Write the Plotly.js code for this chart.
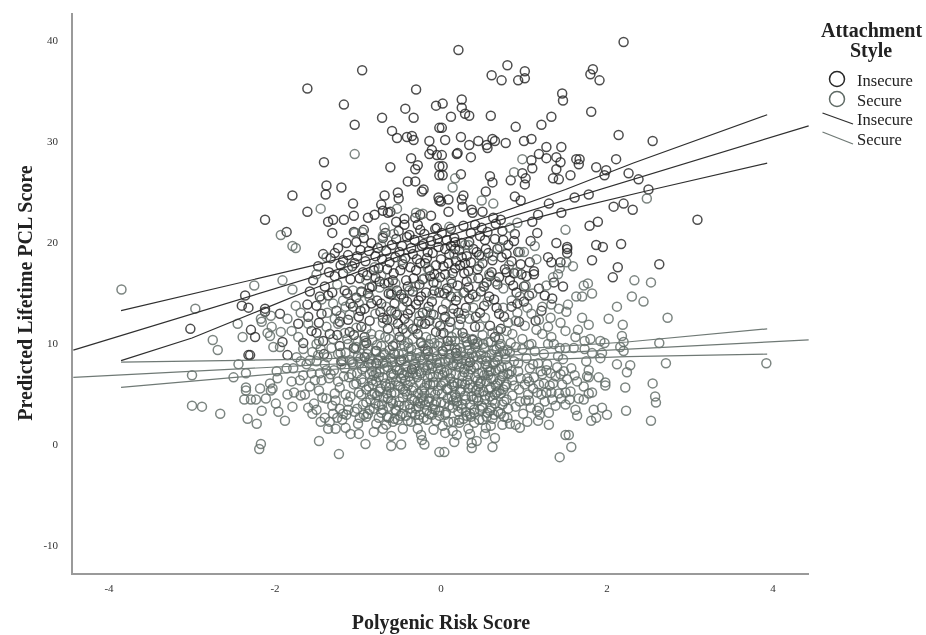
<!DOCTYPE html>
<html><head><meta charset="utf-8">
<script src="https://cdn.plot.ly/plotly-3.0.1.min.js"></script>
<style>html,body{margin:0;padding:0;background:#fff}#c{width:926px;height:635px;filter:blur(0.35px)}</style>
</head><body><div id="c"></div>
<script>
const insecurePoints = [
[-0.95,37.0],[-1.61,35.2],[-0.30,35.1],[-1.17,33.6],[-0.43,33.2],[-0.06,33.5],[-0.71,32.3],[-0.33,32.3],[-1.04,31.6],[-0.02,31.3],[-0.59,31.0],[-0.53,30.3],[-0.41,30.4],[-0.35,30.5],[-0.33,30.1],[-0.14,30.0],[-0.11,29.1],[-0.14,28.7],[-0.05,28.6],[-0.36,28.3],[-0.28,27.6],[-0.31,27.2],[-0.61,27.4],[-1.41,27.9],[-0.02,27.5],[-0.02,26.6],[-0.40,26.0],[-0.31,26.0],[-0.21,25.2],[-0.23,25.0],[-1.38,25.6],[-1.20,25.4],[-1.39,24.7],[-1.79,24.6],[-1.06,23.8],[-0.68,24.6],[-0.52,24.9],[-0.51,24.3],[-0.72,23.7],[-1.61,23.0],[-1.05,22.6],[-0.70,23.1],[-0.61,23.0],[-0.64,22.9],[-0.03,24.4],[-0.02,24.1],[-2.12,22.2],[-1.17,22.2],[-0.88,22.4],[-0.80,22.7],[-1.30,22.2],[-1.36,22.0],[-0.44,22.3],[-0.44,21.7],[-0.54,22.0],[-0.31,22.4],[-0.25,22.7],[-0.12,22.6],[-0.28,21.7],[-0.25,21.2],[-0.07,21.3],[-0.05,21.4],[-1.86,21.0],[-1.31,20.9],[-0.93,21.2],[-1.05,21.0],
[2.20,39.8],[0.21,39.0],[0.80,37.5],[1.01,36.9],[0.61,36.5],[0.73,36.0],[0.93,36.0],[1.01,36.2],[1.83,37.1],[1.80,36.6],[1.91,36.0],[1.46,34.7],[1.47,34.0],[0.25,34.1],[0.25,33.3],[0.02,33.7],[0.29,32.7],[0.34,32.5],[0.12,32.4],[0.60,32.5],[1.81,32.9],[1.33,32.4],[1.21,31.6],[0.90,31.4],[0.01,31.3],[0.24,30.4],[0.05,30.1],[0.45,30.0],[0.34,29.6],[0.62,30.2],[0.55,29.6],[0.56,29.3],[0.65,30.0],[0.78,29.8],[1.00,30.0],[1.09,30.2],[2.14,30.6],[2.55,30.0],[1.27,29.4],[1.45,29.4],[1.18,28.7],[1.27,28.3],[1.39,28.4],[1.44,27.9],[1.63,28.2],[1.67,28.2],[1.66,27.7],[1.09,28.1],[1.10,27.3],[2.11,28.2],[1.39,27.2],[1.35,26.3],[1.42,26.2],[1.56,26.6],[1.87,27.4],[1.99,27.1],[1.97,26.6],[2.26,26.8],[2.38,26.2],[2.50,25.2],[0.19,28.7],[0.20,28.8],[0.36,28.4],[0.01,28.6],[0.02,27.5],[0.02,26.6],[0.24,26.7],[0.59,26.5],[0.62,25.9],[0.84,26.1],[0.98,26.8],[1.02,26.3],[1.01,25.7],[0.54,25.0],[0.27,24.6],[0.25,24.2],[0.26,23.5],[0.09,24.2],[0.00,24.0],[0.09,23.0],[0.37,23.2],[0.38,22.9],[0.50,23.0],[0.89,24.5],[0.96,24.1],[1.30,23.8],[1.61,24.4],[1.78,24.7],[1.17,22.7],[1.10,22.0],[1.45,22.9],[2.08,23.5],[2.20,23.8],[2.31,23.2],[1.79,21.6],[1.89,22.0],[3.09,22.2],[1.16,20.9],[1.39,19.9],[1.87,19.7],[1.95,19.5],[1.52,19.5],[1.52,19.3],[1.52,18.9],[2.17,19.8],[1.82,18.2],[1.29,18.5],[1.33,18.0],[1.44,18.0],[2.13,17.5],[2.63,17.8],[2.07,16.5],[1.47,15.6],[1.12,17.1],[1.07,18.0],[1.08,20.1],[0.89,20.8],[0.88,20.1],[0.63,22.4],[0.72,22.2],[0.66,21.8],[0.49,21.4],[0.36,20.9],[0.53,20.2],[0.07,20.2],[0.17,20.0],[0.12,19.6],[0.75,20.2],[0.73,18.5],[0.25,18.5],[0.31,18.6],[0.17,17.4],[0.05,16.8],[0.97,16.8],[1.03,16.6],[1.12,16.8],
[-2.36,14.7],[-2.40,13.7],[-2.32,13.5],[-2.12,13.4],[-2.12,13.1],[-1.94,12.9],[-3.02,11.4],[-2.29,11.3],[-2.24,10.6],[-1.91,10.1],[-1.85,8.8],[-2.32,8.8],[-2.30,8.8],[-1.61,13.8],[-1.60,12.6],[-1.72,11.9],[-1.47,12.0],[-1.56,11.2],[-1.66,10.0],[-1.41,8.9],[-1.36,14.7],[-1.34,10.9],[-1.22,9.7],[-1.06,13.6],[-0.92,13.4],[-1.05,10.8],[-0.92,10.6],[-1.05,9.5],[-0.78,9.2],[-1.16,15.2],[-0.96,15.1],[-0.60,14.8],[-0.48,14.8],[-0.24,14.6],[-0.73,13.1],[-0.09,12.8],[-0.37,13.3],[-1.20,8.2],
[-1.40,15.6],[-1.33,18.4],[-1.28,18.9],[-1.24,19.4],[-1.12,18.7],[-1.02,20.0],[-0.97,19.2],[-0.91,18.1],[-0.84,19.9],[-0.79,18.6],[-0.75,17.4],[-0.70,20.4],[-0.66,19.1],[-0.62,18.0],[-0.57,16.9],[-0.54,20.3],[-0.50,19.0],[-0.46,17.8],[-0.42,16.2],[-0.38,20.7],[-0.34,18.8],[-0.30,17.2],[-0.26,15.8],[-0.21,19.8],[-0.17,18.4],[-0.13,16.6],[-0.08,15.2],[-0.04,20.3],[0.00,18.3],[0.04,14.9],[0.09,17.9],[0.13,15.9],[0.22,19.2],[0.28,16.9],[0.33,15.5],[0.39,19.3],[0.44,17.3],[0.48,15.1],[0.57,18.9],[0.61,17.0],[0.68,15.8],[0.79,18.8],[0.83,16.2],[0.91,15.0],[1.18,15.4],[1.25,14.7],[1.36,16.0],[-1.48,17.6],[-1.54,16.2],[-1.18,16.9],[-1.09,16.3],[-1.02,14.5],[-0.89,16.7],[-0.83,15.6],[-0.77,14.2],[-0.68,15.9],[-0.56,13.9],[-0.44,12.4],[-0.30,13.8],[-0.19,11.9],[-0.11,14.1],[0.02,13.3],[0.11,12.1],[0.18,14.2],[0.30,13.5],[0.42,12.6],[0.52,13.7],[0.64,14.3],[0.70,12.9],[0.85,13.6],[-0.86,12.2],[-0.64,11.4],[-0.50,10.6],[-0.28,10.9],[-0.06,11.1],[0.08,10.2],[0.26,11.0],[-0.78,8.0],[-0.35,7.4],[0.02,9.2],[-1.12,12.3],[-1.26,13.2],[-1.42,10.2],[-0.96,11.6]
];
const insecureCore = [
[-1.21,17.7],[-1.14,19.9],[-1.07,17.6],[-1.01,18.6],[-0.94,17.0],[-0.93,20.4],[-0.87,19.1],[-0.86,15.5],[-0.81,17.2],[-0.76,19.4],[-0.74,16.1],[-0.71,18.3],[-0.67,20.9],[-0.65,17.3],[-0.63,14.9],[-0.59,19.7],[-0.58,16.2],[-0.55,18.5],[-0.53,15.2],[-0.51,21.1],[-0.49,17.2],[-0.47,19.6],[-0.45,14.4],[-0.43,18.4],[-0.41,20.5],[-0.40,15.6],[-0.37,17.5],[-0.36,19.4],[-0.33,16.4],[-0.32,20.2],[-0.29,18.3],[-0.27,14.2],[-0.25,17.9],[-0.23,19.6],[-0.22,16.3],[-0.20,20.8],[-0.18,15.0],[-0.16,19.0],[-0.14,17.2],[-0.12,20.1],[-0.10,18.9],[-0.09,16.0],[-0.06,17.7],[-0.03,19.5],[-0.01,16.5],[0.01,20.9],[0.03,17.6],[0.05,19.3],[0.07,15.4],[0.10,18.8],[0.12,21.3],[0.14,16.9],[0.16,20.4],[0.18,18.1],[0.20,15.7],[0.23,17.7],[0.25,19.9],[0.27,21.6],[0.29,17.9],[0.31,16.1],[0.34,20.0],[0.36,18.0],[0.38,14.8],[0.41,21.7],[0.43,19.0],[0.45,16.4],[0.47,20.6],[0.50,17.9],[0.52,15.6],[0.54,19.3],[0.56,21.0],[0.59,16.6],[0.62,18.2],[0.65,20.3],[0.68,19.3],[0.70,16.5],[0.74,21.1],[0.77,17.3],[0.81,19.7],[0.85,18.1],[0.88,16.9],[0.93,19.0],[0.96,17.8],[1.00,15.6],[-0.98,16.4],[-1.13,14.9],[-1.28,16.6],[-1.35,17.0],[-1.42,18.8],[-1.46,14.6],[-1.50,13.7],[-1.22,12.1],[-1.10,11.1],[-0.99,12.6],[-0.84,13.9],[-0.70,12.5],[-0.60,13.2],[-0.52,11.9],[-0.40,12.9],[-0.34,11.4],[-0.22,13.0],[-0.14,12.2],[-0.01,11.7],[0.05,12.6],[0.15,13.4],[0.24,12.4],[0.34,14.4],[0.47,13.0],[0.59,11.7],[0.76,12.6],[0.92,13.9],[-0.58,9.7],[-0.16,9.2],[0.18,9.0],[-0.48,8.3],[0.35,8.1],[0.65,10.6],[-0.92,8.6]
];
const insecureExtra = [
[0.33,17.1],[-0.72,13.9],[-1.31,15.0],[0.58,14.6],[-0.19,17.9],[1.06,14.7],[-0.88,14.9],[0.21,13.0],[-1.58,15.1],[0.79,17.0],[-0.41,14.1],[-1.04,17.9],[0.12,14.6],[0.94,12.1],[-0.63,16.0],[-1.44,12.9],[0.46,18.7],[-0.27,12.1],[1.21,13.2],[-0.08,16.8],[-0.97,13.2],[0.67,13.5],[-1.18,18.2],[0.28,15.0],[-0.53,12.8],[1.34,14.4],[-0.34,15.1],[0.03,11.0],[-1.50,11.0],[0.87,15.7],[-0.79,16.5],[0.41,11.6],[-0.15,13.6],[-1.09,13.9],[0.55,16.0],[-0.46,11.4],[1.14,12.2],[0.17,19.3],[-0.65,12.3],[-1.25,10.8],[0.72,11.4],[-0.02,15.0],[-0.90,10.0],[0.38,10.3],[-0.24,10.0],[1.00,14.1]
];
const securePoints = [
[-1.04,28.7],[-1.45,23.3],[-1.93,20.7],[-1.79,19.6],[-1.75,19.4],[-2.25,15.7],[-1.91,16.2],[-1.50,16.8],[-1.79,15.3],[-3.85,15.3],[-0.53,23.3],[-0.30,22.9],[-0.22,22.8],[-0.68,21.4],[-0.70,20.6],[-1.04,20.9],[-0.95,21.0],[-0.72,19.6],[-1.38,18.5],[-0.57,20.8],
[0.98,28.2],[0.88,26.9],[0.17,26.3],[0.14,25.4],[0.49,24.1],[0.63,23.8],[2.48,24.3],[1.50,21.2],[0.10,21.5],[0.92,21.9],[0.83,21.4],[0.33,19.7],[0.29,19.7],[0.71,19.5],[0.95,19.0],[1.00,19.0],[1.13,19.6],[0.49,18.6],[0.63,18.6],[1.15,18.3],[1.51,18.0],[1.59,17.6],[1.43,17.4],[1.35,16.5],[1.41,16.8],[0.82,17.7],[0.92,17.0],[2.33,16.2],[2.53,16.0],[1.72,15.7],[1.77,15.9],[0.46,17.6],[0.58,16.8],[0.37,16.4],
[-2.96,13.4],[-2.45,11.9],[-2.17,12.4],[-2.16,12.1],[-2.05,12.7],[-2.04,11.6],[-2.39,10.6],[-2.09,11.0],[-2.06,10.7],[-1.93,11.1],[-2.75,10.3],[-2.69,9.3],[-2.02,9.6],[-1.94,9.6],[-1.80,11.2],[-1.72,10.6],[-1.47,10.2],[-2.44,7.9],[-2.35,7.0],[-3.00,6.8],[-2.50,6.6],[-1.98,7.2],[-1.97,6.5],[-1.69,8.2],[-1.58,8.3],[-1.50,8.2],[-1.86,7.5],[-1.78,7.5],[-1.66,6.8],[-1.56,7.0],[-1.46,7.0],[-1.38,7.3],[-1.80,6.2],[-2.35,5.6],[-2.35,5.3],[-2.18,5.5],[-2.06,6.0],[-2.03,5.5],[-2.05,5.3],[-2.37,4.4],[-2.29,4.4],[-2.23,4.4],[-2.11,4.5],[-1.99,4.0],[-1.85,4.9],[-1.77,5.1],[-1.69,4.8],[-1.64,4.9],[-1.79,3.7],[-3.00,3.8],[-2.88,3.7],[-2.66,3.0],[-2.16,3.3],[-1.96,3.2],[-2.33,2.5],[-2.22,2.0],[-1.88,2.3],[-1.53,4.0],[-1.55,3.0],[-1.45,2.2],[-1.34,2.2],[-1.36,1.5],[-1.27,1.5],[-1.15,1.6],[-1.09,1.0],[-0.99,1.0],[-0.81,1.2],[-0.70,1.5],[-1.47,0.3],[-0.91,0.0],[-0.60,0.8],[-0.60,-0.2],[-0.48,-0.05],[-0.24,0.9],[-0.23,0.4],[-0.20,-0.05],[-1.23,-1.0],[-2.17,0.0],[-2.19,-0.5],[-0.02,-0.8],
[2.30,14.6],[2.44,14.1],[2.12,13.6],[2.73,12.5],[2.02,12.4],[2.19,11.8],[1.70,12.5],[1.78,11.8],[1.63,14.6],[1.70,14.6],[1.82,14.9],[1.22,13.6],[1.33,13.8],[1.42,13.4],[1.51,13.1],[1.53,13.8],[1.32,12.5],[1.44,12.0],[2.18,10.7],[2.20,10.1],[2.16,9.6],[2.20,9.2],[1.62,10.6],[1.73,10.2],[1.80,10.4],[1.92,10.2],[1.97,10.0],[2.63,10.0],[1.43,9.5],[1.50,9.5],[1.60,9.5],[1.73,9.4],[1.82,9.0],[1.94,9.0],[1.92,8.5],[2.12,7.9],[2.28,7.8],[2.71,8.0],[3.92,8.0],[2.24,7.1],[1.75,8.2],[1.57,7.5],[1.44,6.9],[1.61,6.8],[1.78,7.3],[1.76,6.7],[1.64,6.2],[1.78,6.6],[1.90,6.6],[1.98,6.1],[1.98,5.8],[2.22,5.6],[2.55,6.0],[2.58,4.7],[2.59,4.1],[1.72,5.7],[1.82,5.1],[1.78,5.0],[1.72,4.4],[1.66,4.5],[1.50,5.1],[1.56,5.2],[1.50,3.9],[1.62,3.4],[1.64,2.8],[1.84,3.4],[1.94,3.6],[2.23,3.3],[2.00,2.9],[1.87,2.6],[1.81,2.3],[2.53,2.3],[1.50,0.9],[1.54,0.9],[1.57,-0.3],[1.43,-1.3],[1.30,1.9],[0.95,1.6],[0.83,2.0],[1.17,2.3],[0.65,0.6],[0.62,-0.3],[0.37,-0.4],[0.37,0.1],[0.43,0.3],[0.35,1.0],[0.16,0.2],[0.04,-0.8],[0.05,1.1],[0.19,0.9],[0.53,1.0],
[1.11,5.5],[1.27,7.3],[1.21,4.9],[1.46,5.9],[1.38,3.8],[0.95,4.2],[1.06,4.3],[1.30,3.1],[1.18,3.6],[1.06,6.2],[1.24,6.0],[1.33,5.1],
[-1.44,14.3],[-1.30,13.9],[-1.18,14.2],[-1.24,11.9],[-1.10,12.8],[-0.99,13.9],[-0.86,14.5],[-0.79,12.9],[-0.66,13.6],[-0.58,12.3],[-0.46,13.6],[-0.39,11.9],[-0.26,12.7],[-0.17,13.1],[-0.05,12.0],[0.06,13.9],[0.14,12.9],[0.22,11.8],[0.34,12.4],[0.47,11.6],[0.56,14.1],[0.75,13.5],[0.81,12.0],[0.92,13.0],[1.01,11.7],[1.09,12.9],[1.15,11.3],[1.22,10.9],[1.33,10.6],[0.98,10.4],[1.06,9.8],[0.86,10.9],[0.69,11.2],[-1.38,11.6],[-1.28,12.4],[-1.30,10.4],[-1.16,11.0],[-1.00,10.2],[-0.90,11.4],[-0.74,10.8],[-0.62,10.4],[-0.52,11.2],[-0.40,10.0],[-0.30,11.4],[-0.18,10.6],[-0.08,10.0],[0.00,10.9],[0.10,11.5],[0.17,10.2],[0.30,10.5],[0.40,9.9],[0.50,10.8],[0.60,10.1],[0.72,9.9],[0.80,9.3],[0.90,9.6],
[-1.25,15.8],[-1.06,15.2],[-0.90,16.2],[-0.74,15.5],[-0.55,15.9],[-0.38,15.2],[-0.20,16.4],[-0.05,15.9],[0.12,16.3],[0.27,15.0],[0.42,14.6],[0.75,15.4],[0.95,14.6],[1.10,14.9],[-0.80,17.5],[-0.47,18.2],[-0.16,17.4],[0.16,18.8],[0.20,14.6],[-0.60,15.0],[-1.12,17.4]
];
const secureCore = [
[-1.12,9.9],[-1.07,8.1],[-1.03,9.4],[-1.01,7.0],[-0.99,5.1],[-0.97,8.5],[-0.96,6.4],[-0.94,3.9],[-0.93,9.8],[-0.92,7.6],[-0.90,5.4],[-0.89,8.9],[-0.88,3.0],[-0.86,6.9],[-0.85,4.4],[-0.84,7.9],[-0.83,10.3],[-0.82,5.9],[-0.81,3.5],[-0.79,9.2],[-0.78,6.2],[-0.77,4.8],[-0.76,8.3],[-0.75,2.6],[-0.74,7.1],[-0.73,5.5],[-0.72,9.7],[-0.71,3.9],[-0.70,6.6],[-0.69,4.6],[-0.68,8.8],[-0.67,10.6],[-0.66,5.7],[-0.65,2.7],[-0.64,7.6],[-0.63,3.7],[-0.62,9.3],[-0.61,6.0],[-0.60,4.3],[-0.59,8.1],[-0.58,2.2],[-0.57,6.9],[-0.56,5.1],[-0.55,9.9],[-0.54,3.3],[-0.53,7.3],[-0.52,5.8],[-0.51,8.9],[-0.50,4.2],[-0.49,2.8],[-0.48,10.3],[-0.47,7.0],[-0.46,5.4],[-0.45,8.4],[-0.44,3.8],[-0.43,6.3],[-0.42,7.7],[-0.41,4.9],[-0.40,2.3],[-0.39,9.5],[-0.38,6.7],[-0.37,3.5],[-0.36,8.7],[-0.35,5.3],[-0.34,10.4],[-0.33,7.9],[-0.32,4.3],[-0.31,2.9],[-0.30,6.9],[-0.29,9.0],[-0.28,5.0],[-0.27,3.7],[-0.26,7.2],[-0.25,6.0],[-0.24,10.1],[-0.23,4.6],[-0.22,8.3],[-0.21,2.6],[-0.20,5.6],[-0.19,9.4],[-0.18,7.3],[-0.17,3.3],[-0.16,6.6],[-0.15,8.6],[-0.14,4.5],[-0.13,5.9],[-0.12,10.4],[-0.11,7.5],[-0.10,3.5],[-0.09,6.1],[-0.08,9.1],[-0.07,4.9],[-0.06,2.3],[-0.05,8.0],[-0.04,5.3],[-0.03,6.9],[-0.02,3.3],[-0.01,10.0],[0.00,7.4],[0.01,5.0],[0.02,8.9],[0.03,6.1],[0.04,4.0],[0.05,2.9],[0.06,9.6],[0.07,7.2],[0.08,5.4],[0.09,8.3],[0.10,3.8],[0.11,6.5],[0.12,10.2],[0.13,4.7],[0.14,7.8],[0.15,2.2],[0.16,5.7],[0.17,9.5],[0.18,6.9],[0.19,4.2],[0.20,8.7],[0.21,3.2],[0.22,7.6],[0.23,5.2],[0.24,9.1],[0.25,6.0],[0.26,3.9],[0.27,10.6],[0.28,7.1],[0.29,4.8],[0.30,8.3],[0.31,2.8],[0.32,6.3],[0.33,5.5],[0.34,9.3],[0.35,3.9],[0.36,7.4],[0.37,4.7],[0.38,10.4],[0.39,8.6],[0.40,3.1],[0.41,6.6],[0.42,5.3],[0.43,7.8],[0.44,9.9],[0.45,4.3],[0.46,2.4],[0.47,6.0],[0.48,8.9],[0.49,3.8],[0.50,7.1],[0.51,5.2],[0.52,9.5],[0.53,4.4],[0.54,7.9],[0.55,6.2],[0.56,3.1],[0.57,10.1],[0.58,7.2],[0.59,4.7],[0.60,5.6],[0.61,8.9],[0.62,2.5],[0.63,6.4],[0.64,9.3],[0.65,4.0],[0.66,7.3],[0.67,5.1],[0.68,8.3],[0.69,3.2],[0.70,10.4],[0.71,6.3],[0.72,5.0],[0.73,7.6],[0.74,3.9],[0.75,9.2],[0.76,2.7],[0.77,5.7],[0.78,8.4],[0.79,4.4],[0.80,7.0],
[-1.15,9.0],[-1.11,6.6],[-1.09,4.7],[-1.06,7.9],[-1.04,3.2],[-1.02,6.0],[-1.00,8.7],[-0.98,2.6],[-0.96,4.9],[-0.92,10.2],[-0.87,8.0],[-0.83,6.3],[-0.80,5.0],[-0.75,3.8],[-0.70,8.0],[-0.65,5.0],[-0.60,7.0],[-0.55,3.4],[-0.50,8.2],[-0.45,6.8],[-0.40,5.8],[-0.35,3.1],[-0.30,8.5],[-0.25,4.0],[-0.20,7.6],[-0.15,4.2],[-0.10,6.6],[-0.05,8.7],[0.00,4.1],[0.05,6.2],[0.10,8.9],[0.15,4.3],[0.20,6.0],[0.25,8.0],[0.30,3.2],[0.35,5.9],[0.40,7.6],[0.45,5.7],[0.50,3.6],[0.55,8.2],[0.60,6.5],[0.65,4.9],[0.70,7.4],[0.75,5.4],
[-1.48,8.8],[-1.44,6.3],[-1.40,7.9],[-1.38,4.5],[-1.35,6.5],[-1.32,9.5],[-1.29,7.3],[-1.27,4.3],[-1.24,8.9],[-1.22,5.6],[-1.20,7.9],[-1.18,3.0],[-1.17,6.7],[-1.15,4.9],[-1.13,10.4],[-1.47,5.3],[-1.43,4.6],[-1.50,3.4],[-1.40,2.6],[-1.31,3.8],[-1.25,2.6],[-1.19,2.4],[-1.14,2.9],[0.82,6.9],[0.84,10.0],[0.86,4.8],[0.88,8.2],[0.90,3.7],[0.93,7.2],[0.94,5.4],[0.96,6.5],[0.98,9.4],[0.99,3.0],[1.01,5.9],[1.03,8.5],[1.05,4.9],[1.07,7.5],[1.08,3.6],[1.12,6.6],[1.13,9.2],[1.16,5.1],[1.17,8.0],[1.19,2.9],[1.22,6.9],[1.25,4.2],[1.28,7.9],[1.31,5.8],[1.34,4.4],[1.38,6.7],[1.40,7.6],[1.42,5.0],[1.47,8.4],[1.52,6.4],[1.55,4.4],
[-1.00,2.0],[-0.90,2.7],[-0.78,2.0],[-0.66,1.9],[-0.56,2.5],[-0.46,1.5],[-0.36,2.2],[-0.28,1.5],[-0.17,2.4],[-0.09,1.4],[0.02,1.8],[0.14,1.3],[0.22,2.1],[0.33,1.5],[0.40,2.1],[0.54,1.6],[0.60,1.8],[0.74,1.9],[0.80,2.6],[0.90,1.9],[1.04,2.2]
];
const secureExtra = [
[0.37,9.0],[-0.83,4.9],[0.06,3.1],[-0.44,9.7],[0.58,5.4],[-1.05,5.9],[0.21,8.4],[-0.27,2.4],[0.74,6.7],[-0.61,8.5],[-0.12,5.1],[0.47,3.4],[-0.95,7.4],[0.13,10.6],[-0.35,4.5],[0.63,7.9],[-0.72,3.1],[0.29,5.9],[-0.18,8.9],[0.88,5.8],[-0.52,2.4],[0.02,6.8],[-1.12,4.2],[0.41,9.6],[-0.08,3.9],[0.55,2.7],[-0.67,6.0],[0.18,4.6],[-0.41,7.1],[0.83,9.1],[-0.23,5.3],[0.33,6.9],[-0.88,9.4],[0.09,2.2],[-0.49,5.7],[0.69,8.7],[-0.15,9.9],[0.25,3.5],[-0.78,7.0],[0.44,6.3],[-0.31,8.0],[0.76,4.2],[-0.58,4.0],[-0.01,8.1],[0.51,9.9],[-1.01,3.5],[0.16,6.1],[-0.37,6.2],[0.61,3.6],[-0.69,9.0],[0.31,10.1],[-0.11,2.9],[0.93,8.0],[-0.47,3.0],[0.07,5.5],[-0.81,6.8],[0.39,4.4],[-0.24,7.0],[0.66,5.8],[-0.55,7.6],[0.19,7.9],[-0.93,2.9],[0.49,8.4],[-0.06,4.2],[0.27,2.5],[-0.33,5.6],[0.71,9.7],[-0.64,4.5],[0.11,8.5],[-0.19,3.9],[0.57,6.8],[-0.85,8.4],[0.35,3.0],[-0.42,2.8],[0.80,7.7],[-0.03,9.7],[-0.74,5.2],[0.23,9.5],[-0.29,6.6],[0.45,7.0],[-0.57,9.0],[0.14,3.6],[-1.08,6.9],[0.62,4.3],[-0.16,7.8],[0.38,5.6],[-0.48,6.5],[0.04,7.1],[-0.90,4.1],[0.72,3.0],[-0.25,8.6],[0.28,7.4],[-0.63,2.6],[0.53,4.8],[-0.09,5.9],[0.17,4.9],[-0.77,9.8],[0.42,8.7],[-0.38,3.9],[0.86,6.3],[-0.54,6.2],[-0.13,6.9],[0.67,9.4],[-0.98,8.0],[0.08,4.5],[0.32,9.8],[-0.28,4.2],[0.59,3.3],[-0.68,7.4],[-0.04,7.5],[0.24,5.4],[-0.45,9.0],[0.77,8.9],[-0.83,7.2],[0.12,7.0],[-0.21,4.3],[0.48,6.2],[-0.60,5.0],[0.36,2.7],[-0.36,9.4],[0.68,6.0],[-1.16,7.5],[0.00,5.8],[0.20,3.8],[-0.51,3.8],[0.54,8.6],[-0.73,8.6],[-0.10,8.5],[0.43,4.6],[-0.32,7.6],[0.81,3.5],[-0.87,5.7],[0.26,6.7],[-0.17,6.0],[0.60,7.2],[-0.46,4.6],[0.10,9.7],[-0.70,3.4],[0.46,5.1],[-0.26,2.9],[0.34,8.6],[-0.59,6.6],[0.75,6.9],[-1.02,9.6],[-0.07,3.4],[0.15,8.0],[-0.39,8.6],[0.52,6.8],[-0.79,4.0],[0.30,4.4],[-0.22,9.7],[0.65,8.1],[-0.50,7.3],[-0.94,6.1],[0.05,8.2],[0.40,3.4],[-0.30,3.5],[0.70,5.3],[-0.66,8.1],[0.22,2.4],[-0.14,3.0],[0.56,7.6],[-0.43,5.2],[-1.10,8.3],[0.13,5.9],[-0.75,6.6],[0.50,2.4],[-0.34,7.0],[0.85,7.2],[-0.02,2.8],[0.33,7.7],[-0.20,5.0],[0.64,2.9],[-0.56,8.9],[0.19,9.3],[-0.86,3.4],[0.44,10.1],[-0.12,7.9],[0.79,5.9],[-0.62,5.6],
[-1.28,5.0],[-1.21,9.0],[-1.33,6.9],[-1.37,8.6],[-1.24,6.2],[-1.18,8.3],[-1.45,9.4],[-1.52,6.3],[-1.58,5.7],[-1.62,7.9],[-1.55,9.1],[-1.30,3.0],[-1.60,3.6],[-1.70,6.3],[-1.74,8.6],[-1.66,9.4],[-1.12,3.4],[-1.22,3.5],[1.04,6.5],[1.11,7.9],[1.18,5.9],[1.27,5.1],[1.35,6.0],[1.24,8.9],[1.16,3.3],[1.02,4.3],[1.09,9.9],[1.29,9.9],[1.41,8.7],[1.36,9.9],[1.48,7.2],[1.20,7.2],[1.32,7.0],[1.45,4.5],
[-1.21,12.7],[-1.02,11.5],[-0.84,10.9],[-0.70,12.0],[-0.55,13.0],[-0.42,11.0],[-0.23,11.9],[-0.12,12.9],[0.04,12.4],[0.19,11.0],[0.28,12.9],[0.39,13.5],[0.53,12.5],[0.62,11.0],[0.79,11.2],[0.90,12.2],[1.04,13.5],[1.18,12.3],[1.29,11.6],[-1.50,9.9],[-1.60,11.9],[-1.37,13.0],[-1.15,13.6],[-0.96,15.0],[-0.72,16.7],[-0.50,14.6],[-0.31,15.6],[-0.10,14.8],[0.08,15.2],[0.51,15.6],[0.66,16.1],[0.85,14.2],[1.02,15.7],[1.27,15.7],[1.50,11.2],[1.65,11.3],[-1.69,13.0],[-1.85,12.4],[-1.75,13.7]
];
const xTickVals = [-4,-2,0,2,4];
const xTickText = ["-4","-2","0","2","4"];
const yTickVals = [-10,0,10,20,30,40];
const yTickText = ["-10","0","10","20","30","40"];

const fitInsecureX = [-4.43,4.43];
const fitInsecureY = [9.3,31.5];
const upperInsecureX = [-3.855,-2.78,-1.42,-0.5,0,0.71,1.5,2.31,3.93];
const upperInsecureY = [13.2,15.3,17.9,20.0,21.1,22.9,25.2,27.8,32.6];
const lowerInsecureX = [-3.855,-3,-2.1,-1.58,-0.5,0,0.71,1.43,2.55,3.93];
const lowerInsecureY = [8.25,10.5,13.5,15.25,18.6,19.7,21.4,23.0,25.2,27.8];
const fitSecureX = [-4.43,4.43];
const fitSecureY = [6.6,10.3];
const upperSecureX = [-3.855,-1.5,0,2.24,3.93];
const upperSecureY = [8.1,8.4,8.9,10.1,11.4];
const lowerSecureX = [-3.855,-1.5,0,2.24,3.93];
const lowerSecureY = [5.6,7.3,8.0,8.65,8.9];

const serif = '"Liberation Serif","Times New Roman",serif';
const darkRing = '#262626', greyRing = '#5f6a65', darkLine = '#2f2f2f', greyLine = '#6f7975';

function scatter(points, color, name){
  return {type:'scatter',mode:'markers',name,x:points.map(p=>p[0]),y:points.map(p=>p[1]),
    marker:{symbol:'circle-open',size:9,color,opacity:0.82,line:{width:1.5,color}},cliponaxis:false,hoverinfo:'x+y+name'};
}
function curve(x,y,color,name){
  return {type:'scatter',mode:'lines',name,x,y,line:{color,width:1.2},hoverinfo:'name'};
}
const data = [
  scatter(insecurePoints.concat(insecureCore,insecureExtra),darkRing,'Insecure'),
  scatter(securePoints.concat(secureCore,secureExtra),greyRing,'Secure'),
  curve(fitInsecureX,fitInsecureY,darkLine,'Insecure fit'),
  curve(upperInsecureX,upperInsecureY,darkLine,'Insecure upper'),
  curve(lowerInsecureX,lowerInsecureY,darkLine,'Insecure lower'),
  curve(fitSecureX,fitSecureY,greyLine,'Secure fit'),
  curve(upperSecureX,upperSecureY,greyLine,'Secure upper'),
  curve(lowerSecureX,lowerSecureY,greyLine,'Secure lower')
];

const L=73,R=809,T=13,B=573;
const px=v=>(v-L)/(R-L), py=v=>(B-v)/(B-T);
function legendText(text,x,y,size,bold,anchor){
  return {xref:'paper',yref:'paper',x:px(x),y:py(y),text:bold?'<b>'+text+'</b>':text,showarrow:false,
    xanchor:anchor,yanchor:'middle',font:{family:serif,size,color:'#222'}};
}
const annotations=[
  legendText('Attachment',871,30,20,true,'center'),
  legendText('Style',871,51,20,true,'center'),
  legendText('Insecure',855,80,16.5,false,'left'),
  legendText('Secure',855,100,16.5,false,'left'),
  legendText('Insecure',855,119,16.5,false,'left'),
  legendText('Secure',855,139,16.5,false,'left')
];
function ring(cx,cy,color){
  return {type:'circle',xref:'paper',yref:'paper',x0:px(cx-7.5),x1:px(cx+7.5),y0:py(cy+7.5),y1:py(cy-7.5),line:{color,width:1.5},fillcolor:'rgba(0,0,0,0)'};
}
function slash(y0,y1,color){
  return {type:'line',xref:'paper',yref:'paper',x0:px(822.5),x1:px(853),y0:py(y0),y1:py(y1),line:{color,width:1.3}};
}
const shapes=[ring(837,79,darkRing),ring(837,99,greyRing),slash(113,124,darkLine),slash(132,144,greyLine)];

const layout={
  width:926,height:635,paper_bgcolor:'#fff',plot_bgcolor:'#fff',showlegend:false,
  margin:{l:L,r:926-R,t:T,b:635-B,pad:0},
  font:{family:serif,color:'#333'},
  xaxis:{range:[-4.434,4.434],tickvals:xTickVals,ticktext:xTickText,ticks:'outside',ticklen:4,tickcolor:'rgba(0,0,0,0)',tickfont:{family:serif,size:11,color:'#333'},
    showgrid:false,zeroline:false,showline:true,linecolor:'#9a9a9a',linewidth:1.5,
    title:{text:'<b>Polygenic Risk Score</b>',font:{family:serif,size:20,color:'#222'},standoff:22}},
  yaxis:{range:[-12.77,42.67],tickvals:yTickVals,ticktext:yTickText,ticks:'outside',ticklen:11,tickcolor:'rgba(0,0,0,0)',tickfont:{family:serif,size:11,color:'#333'},
    showgrid:false,zeroline:false,showline:true,linecolor:'#9a9a9a',linewidth:1.5,
    title:{text:'<b>Predicted Lifetime PCL Score</b>',font:{family:serif,size:20,color:'#222'},standoff:5}},
  annotations,shapes
};
Plotly.newPlot('c',data,layout,{displayModeBar:false,responsive:false});
</script></body></html>
